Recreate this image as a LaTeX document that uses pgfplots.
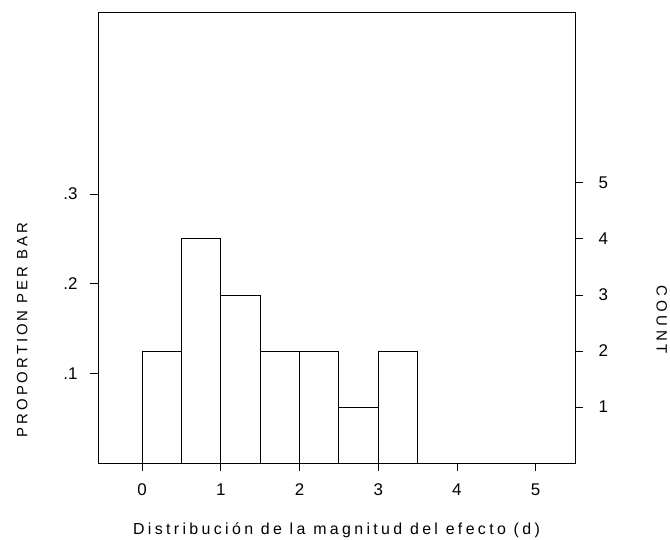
\documentclass[border=0pt]{standalone}
\usepackage{fontspec}
\setmainfont{Liberation Sans}
\usepackage{pgfplots}
\pgfplotsset{compat=1.18}
\newcommand{\tfont}{\fontsize{17}{19}\selectfont}
\begin{document}
\begin{tikzpicture}[x=1bp,y=1bp]
\useasboundingbox (-98,-77) rectangle (572,463);
% proportion axis (left) with full frame
\begin{axis}[
  at={(0,0)}, anchor=south west, scale only axis,
  width=477bp, height=451bp,
  xmin=-0.56, xmax=5.5, ymin=0, ymax=0.503125,
  xtick={0,1,2,3,4,5}, ytick={0.1,0.2,0.3},
  xticklabels={{\tfont 0},{\tfont 1},{\tfont 2},{\tfont 3},{\tfont 4},{\tfont 5}},
  yticklabels={{\tfont .1},{\tfont .2},{\tfont .3}},
  xtick pos=bottom, ytick pos=left,
  tick align=outside, major tick length=8bp,
  axis line style={line width=0.8bp},
  tick style={line width=0.8bp, black},
  /pgf/number format/assume math mode=true,
  xticklabel style={yshift=-9bp},
  yticklabel style={xshift=-9bp},
  xlabel={Distribución de la magnitud del efecto (d)},
  xlabel style={at={(axis description cs:0.5,-0.149)}, anchor=center,
    font=\fontsize{16}{18}\selectfont\addfontfeatures{LetterSpace=21}},
  ylabel={PROPORTION PER BAR},
  ylabel style={at={(axis description cs:-0.159,0.295)}, anchor=center, rotate=0,
    font=\fontsize{15}{17}\selectfont\addfontfeatures{LetterSpace=20}},
]
\end{axis}
% count axis (right) with the bars
\begin{axis}[
  at={(0,0)}, anchor=south west, scale only axis,
  width=477bp, height=451bp,
  xmin=-0.56, xmax=5.5, ymin=0, ymax=8.05,
  axis x line=none, axis y line*=right,
  ytick={1,2,3,4,5},
  yticklabels={{\tfont 1},{\tfont 2},{\tfont 3},{\tfont 4},{\tfont 5}},
  tick align=outside, major tick length=8bp,
  axis line style={line width=0.8bp},
  tick style={line width=0.8bp, black},
  /pgf/number format/assume math mode=true,
  yticklabel style={xshift=12bp},
  ylabel={COUNT},
  ylabel style={at={(axis description cs:1.182,0.317)}, anchor=center, rotate=180,
    font=\fontsize{15}{17}\selectfont\addfontfeatures{LetterSpace=25}},
]
\addplot[ybar interval, fill=white, draw=black, line width=0.8bp]
  coordinates {(0,2) (0.5,4) (1,3) (1.5,2) (2,2) (2.5,1) (3,2) (3.5,2)};
\end{axis}
\end{tikzpicture}
\end{document}
